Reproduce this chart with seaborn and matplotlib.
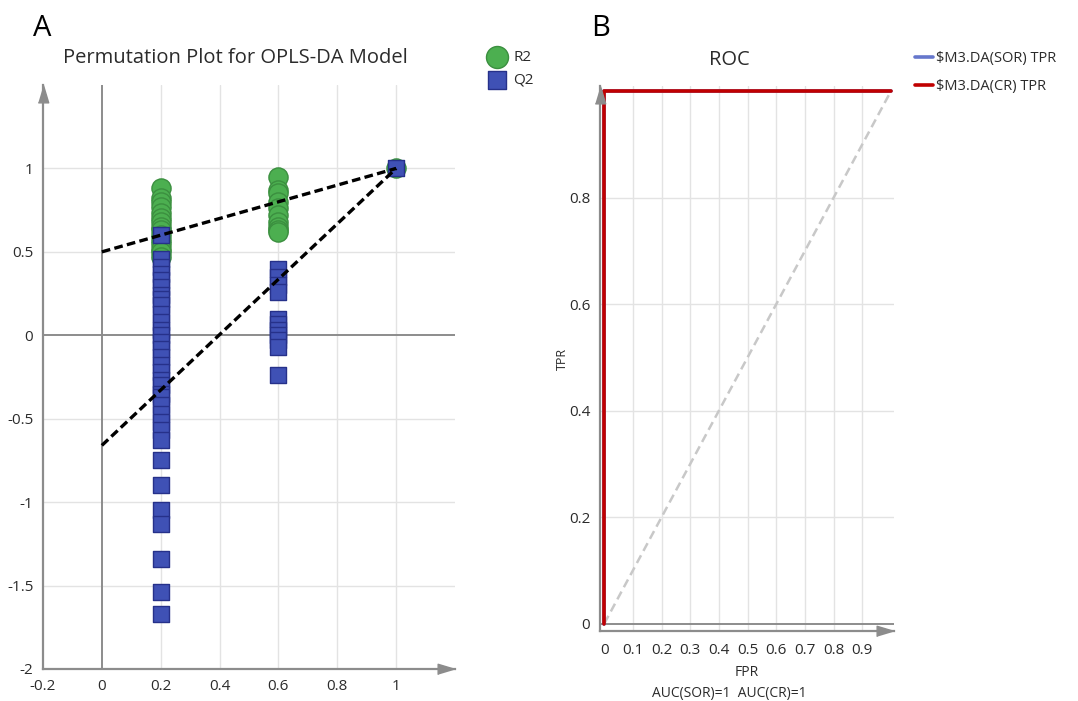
import numpy as np
import pandas as pd
import matplotlib
matplotlib.use("Agg")
import matplotlib.pyplot as plt
from matplotlib.lines import Line2D
from matplotlib.ticker import MultipleLocator, FixedLocator
import seaborn as sns

# ---------------- data ----------------
# Permutation test (OPLS-DA): correlation of permuted vs original Y, and R2/Q2
r2_x = [0.2] * 15 + [0.6] * 10 + [1.0]
r2_y = [0.88, 0.82, 0.80, 0.77, 0.73, 0.70, 0.68, 0.65, 0.63, 0.60,
        0.57, 0.55, 0.52, 0.50, 0.47,
        0.95, 0.87, 0.85, 0.80, 0.76, 0.72, 0.68, 0.65, 0.63, 0.62,
        1.0]

q2_x = [0.2] * 34 + [0.6] * 11 + [1.0]
q2_y = [0.60, 0.46, 0.41, 0.37, 0.33, 0.29, 0.24, 0.22, 0.18, 0.13,
        0.08, 0.03, 0.00, -0.04, -0.08, -0.13, -0.18, -0.22, -0.27, -0.30,
        -0.35, -0.37, -0.42, -0.47, -0.52, -0.57, -0.63,
        -0.75, -0.90, -1.05, -1.13, -1.34, -1.54, -1.67,
        0.40, 0.35, 0.30, 0.26, 0.10, 0.07, 0.03, 0.00, -0.03, -0.07, -0.24,
        1.0]

# regression lines through the original model point
reg_x = [0.0, 1.0]
r2_line_y = [0.50, 1.00]
q2_line_y = [-0.66, 1.00]

# ROC curves
fpr = [0.0, 0.0, 1.0]
tpr_sor = [0.0, 1.0, 1.0]
tpr_cr = [0.0, 1.0, 1.0]
diag = [0.0, 1.0]

a_xticks = [-0.2, 0, 0.2, 0.4, 0.6, 0.8, 1]
a_xlabels = ["-0.2", "0", "0.2", "0.4", "0.6", "0.8", "1"]
a_yticks = [-2, -1.5, -1, -0.5, 0, 0.5, 1]
a_ylabels = ["-2", "-1.5", "-1", "-0.5", "0", "0.5", "1"]
b_xticks = [0, 0.1, 0.2, 0.3, 0.4, 0.5, 0.6, 0.7, 0.8, 0.9]
b_xlabels = ["0", "0.1", "0.2", "0.3", "0.4", "0.5", "0.6", "0.7", "0.8", "0.9"]
b_yticks = [0, 0.2, 0.4, 0.6, 0.8]
b_ylabels = ["0", "0.2", "0.4", "0.6", "0.8"]

# ---------------- style ----------------
sns.set_theme(style="white")
plt.rcParams["font.family"] = ["Open Sans", "DejaVu Sans"]

AXIS_GREY = "#8c8c8c"
GRID_GREY = "#e3e3e3"
TEXT = "#2b2b2b"
GREEN, GREEN_EDGE = "#4caf50", "#3b8f3f"
BLUE, BLUE_EDGE = "#3f51b5", "#26318a"
RED = "#c00000"
LIGHT_BLUE = "#6677cc"

fig = plt.figure(figsize=(10.78, 7.01), dpi=100)
W, H = 1078, 701


def px_axes(left, top, right, bottom):
    return fig.add_axes([left / W, 1 - bottom / H, (right - left) / W, (bottom - top) / H])


def style_axes(ax):
    for s in ("top", "right"):
        ax.spines[s].set_visible(False)
    for s in ("left", "bottom"):
        ax.spines[s].set_color(AXIS_GREY)
        ax.spines[s].set_linewidth(1.6)
    ax.tick_params(axis="both", which="major", direction="out", length=5, width=1.2,
                   color=AXIS_GREY, labelcolor=TEXT, labelsize=11, pad=2)
    ax.tick_params(axis="both", which="minor", direction="out", length=3, width=1.0,
                   color=AXIS_GREY)
    # arrow heads whose tips sit at the end of both axes
    head_up = [(-0.6, -2.0), (0.6, -2.0), (0.0, 0.0)]
    ax.plot([0], [1], marker=head_up, ms=25, color=AXIS_GREY, transform=ax.transAxes,
            clip_on=False, zorder=6)
    head_right = [(-2.0, -0.6), (-2.0, 0.6), (0.0, 0.0)]
    ax.plot([1], [0], marker=head_right, ms=25, color=AXIS_GREY, transform=ax.transAxes,
            clip_on=False, zorder=6)


# ---------------- panel A: permutation plot ----------------
axA = px_axes(43, 85, 455, 669)
axA.set_xlim(-0.2, 1.2)
axA.set_ylim(-2.0, 1.5)
style_axes(axA)

for gx in [0.2, 0.4, 0.6, 0.8, 1.0]:
    axA.axvline(gx, color=GRID_GREY, lw=1.0, zorder=0)
for gy in [-1.5, -1.0, -0.5, 0.5, 1.0]:
    axA.axhline(gy, color=GRID_GREY, lw=1.0, zorder=0)
axA.axvline(0, color=AXIS_GREY, lw=1.4, zorder=1)
axA.axhline(0, color=AXIS_GREY, lw=1.4, zorder=1)

perm = pd.DataFrame({"x": r2_x, "y": r2_y})
permq = pd.DataFrame({"x": q2_x, "y": q2_y})
sns.scatterplot(data=perm, x="x", y="y", ax=axA, marker="o", s=190, color=GREEN,
                edgecolor=GREEN_EDGE, linewidth=1.0, label="R2", zorder=3, clip_on=False)
sns.scatterplot(data=permq, x="x", y="y", ax=axA, marker="s", s=130, color=BLUE,
                edgecolor=BLUE_EDGE, linewidth=1.0, label="Q2", zorder=4, clip_on=False)

sns.lineplot(x=reg_x, y=r2_line_y, ax=axA, color="black", lw=2.4,
             zorder=5, legend=False).lines[-1].set_dashes((2.6, 1.3))
sns.lineplot(x=reg_x, y=q2_line_y, ax=axA, color="black", lw=2.4,
             zorder=5, legend=False).lines[-1].set_dashes((2.6, 1.3))

axA.xaxis.set_major_locator(FixedLocator(a_xticks))
axA.set_xticklabels(a_xlabels)
axA.xaxis.set_minor_locator(MultipleLocator(0.1))
axA.yaxis.set_major_locator(FixedLocator(a_yticks))
axA.set_yticklabels(a_ylabels)
axA.yaxis.set_minor_locator(MultipleLocator(0.25))
axA.set_xlabel("")
axA.set_ylabel("")
axA.set_title("Permutation Plot for OPLS-DA Model", fontsize=14.5, color=TEXT,
              x=0.468, pad=16)
axA.legend(loc="upper left", bbox_to_anchor=(1.05, 1.07), frameon=False,
           fontsize=11, handletextpad=0.05, labelspacing=0.5, borderaxespad=0,
           markerscale=1.15, labelcolor=TEXT)

# ---------------- panel B: ROC ----------------
axB = px_axes(600, 86, 894, 631)
axB.set_xlim(-0.015, 1.011)
axB.set_ylim(-0.014, 1.01)
style_axes(axB)

for gx in b_xticks[1:]:
    axB.axvline(gx, color=GRID_GREY, lw=1.0, zorder=0)
for gy in b_yticks[1:]:
    axB.axhline(gy, color=GRID_GREY, lw=1.0, zorder=0)
axB.axhline(0, color=AXIS_GREY, lw=1.4, zorder=1)

sns.lineplot(x=diag, y=diag, ax=axB, color="#c8c8c8", lw=1.8, zorder=2,
             legend=False).lines[-1].set_dashes((3.5, 2.0))
roc = pd.DataFrame({"fpr": fpr * 2, "tpr": tpr_sor + tpr_cr,
                    "model": ["$M3.DA(SOR) TPR"] * 3 + ["$M3.DA(CR) TPR"] * 3})
sns.lineplot(data=roc, x="fpr", y="tpr", hue="model", units="model", estimator=None,
             sort=False, palette={"$M3.DA(SOR) TPR": LIGHT_BLUE, "$M3.DA(CR) TPR": RED},
             lw=2.6, ax=axB, zorder=3, legend=False)

axB.xaxis.set_major_locator(FixedLocator(b_xticks))
axB.set_xticklabels(b_xlabels)
axB.xaxis.set_minor_locator(MultipleLocator(0.05))
axB.yaxis.set_major_locator(FixedLocator(b_yticks))
axB.set_yticklabels(b_ylabels)
axB.yaxis.set_minor_locator(MultipleLocator(0.1))
axB.tick_params(axis="x", which="major", pad=4)
axB.set_xlabel("FPR", fontsize=10, color=TEXT, labelpad=5)
axB.set_ylabel("TPR", fontsize=9, color=TEXT, labelpad=0)
axB.set_title("ROC", fontsize=14.5, color=TEXT, x=0.44, pad=15)
axB.text(0.44, -0.100, "AUC(SOR)=1  AUC(CR)=1", transform=axB.transAxes,
         ha="center", va="top", fontsize=10, color=TEXT)

handles = [Line2D([], [], color=LIGHT_BLUE, lw=2.6), Line2D([], [], color=RED, lw=2.6)]
axB.legend(handles, ["$M3.DA(SOR) TPR", "$M3.DA(CR) TPR"], loc="upper left",
           bbox_to_anchor=(1.05, 1.075), frameon=False, fontsize=10.5, handlelength=1.3,
           handletextpad=0.15, labelspacing=0.9, borderaxespad=0, labelcolor=TEXT)

# panel letters
fig.text(42 / W, 1 - 28 / H, "A", fontsize=21, color="black", ha="center", va="center")
fig.text(601 / W, 1 - 28 / H, "B", fontsize=21, color="black", ha="center", va="center")

fig.savefig("out.png", dpi=100, facecolor="white")
